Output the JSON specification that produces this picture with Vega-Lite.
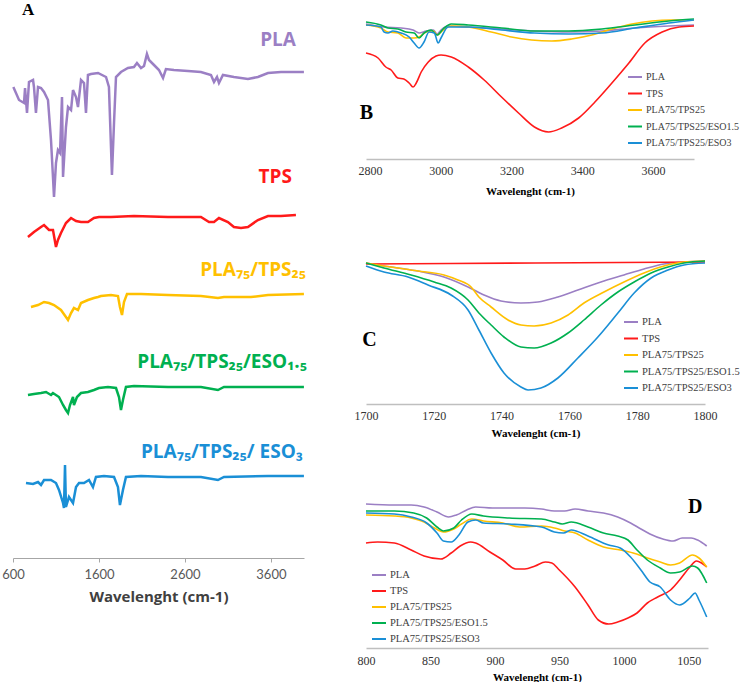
{
"$schema": "https://vega.github.io/schema/vega-lite/v6.json",
"padding": {"left": 1, "top": 0, "right": 0, "bottom": 0},
"background": "white",
"config": {"view": {"stroke": null}, "axis": {"grid": false}},
"bounds": "flush",
"spacing": 62,
"resolve": {"legend": {"color": "independent"}},
"datasets": {
"a": [
{"s":"PLA","x":604,"y":471},{"s":"PLA","x":670,"y":458},{"s":"PLA","x":728,"y":455},{"s":"PLA","x":740,"y":470},{"s":"PLA","x":763,"y":445},{"s":"PLA","x":786,"y":476},{"s":"PLA","x":833,"y":478},{"s":"PLA","x":844,"y":471},{"s":"PLA","x":867,"y":445},{"s":"PLA","x":891,"y":471},{"s":"PLA","x":926,"y":470},{"s":"PLA","x":961,"y":466},{"s":"PLA","x":1007,"y":458},{"s":"PLA","x":1042,"y":418},{"s":"PLA","x":1065,"y":381},{"s":"PLA","x":1077,"y":361},{"s":"PLA","x":1100,"y":395},{"s":"PLA","x":1123,"y":408},{"s":"PLA","x":1147,"y":405},{"s":"PLA","x":1170,"y":461},{"s":"PLA","x":1182,"y":381},{"s":"PLA","x":1216,"y":431},{"s":"PLA","x":1240,"y":451},{"s":"PLA","x":1275,"y":448},{"s":"PLA","x":1298,"y":468},{"s":"PLA","x":1333,"y":461},{"s":"PLA","x":1356,"y":451},{"s":"PLA","x":1391,"y":478},{"s":"PLA","x":1426,"y":475},{"s":"PLA","x":1449,"y":445},{"s":"PLA","x":1472,"y":483},{"s":"PLA","x":1507,"y":484},{"s":"PLA","x":1589,"y":485},{"s":"PLA","x":1682,"y":481},{"s":"PLA","x":1716,"y":471},{"s":"PLA","x":1751,"y":383},{"s":"PLA","x":1775,"y":435},{"s":"PLA","x":1798,"y":481},{"s":"PLA","x":1856,"y":486},{"s":"PLA","x":1937,"y":490},{"s":"PLA","x":2007,"y":491},{"s":"PLA","x":2042,"y":495},{"s":"PLA","x":2089,"y":490},{"s":"PLA","x":2124,"y":492},{"s":"PLA","x":2158,"y":504},{"s":"PLA","x":2182,"y":498},{"s":"PLA","x":2240,"y":493},{"s":"PLA","x":2298,"y":488},{"s":"PLA","x":2345,"y":480},{"s":"PLA","x":2379,"y":489},{"s":"PLA","x":2472,"y":488},{"s":"PLA","x":2635,"y":487},{"s":"PLA","x":2786,"y":486},{"s":"PLA","x":2903,"y":483},{"s":"PLA","x":2938,"y":476},{"s":"PLA","x":2973,"y":481},{"s":"PLA","x":2996,"y":475},{"s":"PLA","x":3042,"y":483},{"s":"PLA","x":3170,"y":481},{"s":"PLA","x":3333,"y":479},{"s":"PLA","x":3449,"y":481},{"s":"PLA","x":3566,"y":485},{"s":"PLA","x":3717,"y":486},{"s":"PLA","x":3868,"y":486},{"s":"PLA","x":3984,"y":486},
{"s":"TPS","x":774,"y":321},{"s":"TPS","x":844,"y":326},{"s":"TPS","x":926,"y":331},{"s":"TPS","x":961,"y":333},{"s":"TPS","x":1019,"y":328},{"s":"TPS","x":1065,"y":328},{"s":"TPS","x":1100,"y":311},{"s":"TPS","x":1123,"y":318},{"s":"TPS","x":1158,"y":325},{"s":"TPS","x":1216,"y":335},{"s":"TPS","x":1275,"y":340},{"s":"TPS","x":1333,"y":337},{"s":"TPS","x":1391,"y":336},{"s":"TPS","x":1472,"y":336},{"s":"TPS","x":1542,"y":340},{"s":"TPS","x":1600,"y":341},{"s":"TPS","x":1740,"y":341},{"s":"TPS","x":2007,"y":342},{"s":"TPS","x":2403,"y":341},{"s":"TPS","x":2786,"y":341},{"s":"TPS","x":2880,"y":336},{"s":"TPS","x":2938,"y":336},{"s":"TPS","x":2996,"y":340},{"s":"TPS","x":3100,"y":336},{"s":"TPS","x":3170,"y":331},{"s":"TPS","x":3252,"y":330},{"s":"TPS","x":3333,"y":331},{"s":"TPS","x":3449,"y":338},{"s":"TPS","x":3566,"y":342},{"s":"TPS","x":3717,"y":342},{"s":"TPS","x":3891,"y":343},
{"s":"PLA75/TPS25","x":809,"y":251},{"s":"PLA75/TPS25","x":891,"y":253},{"s":"PLA75/TPS25","x":961,"y":256},{"s":"PLA75/TPS25","x":1019,"y":255},{"s":"PLA75/TPS25","x":1077,"y":253},{"s":"PLA75/TPS25","x":1158,"y":248},{"s":"PLA75/TPS25","x":1216,"y":241},{"s":"PLA75/TPS25","x":1240,"y":238},{"s":"PLA75/TPS25","x":1275,"y":245},{"s":"PLA75/TPS25","x":1309,"y":250},{"s":"PLA75/TPS25","x":1356,"y":248},{"s":"PLA75/TPS25","x":1391,"y":255},{"s":"PLA75/TPS25","x":1472,"y":258},{"s":"PLA75/TPS25","x":1542,"y":260},{"s":"PLA75/TPS25","x":1589,"y":261},{"s":"PLA75/TPS25","x":1623,"y":262},{"s":"PLA75/TPS25","x":1740,"y":263},{"s":"PLA75/TPS25","x":1821,"y":262},{"s":"PLA75/TPS25","x":1844,"y":251},{"s":"PLA75/TPS25","x":1868,"y":243},{"s":"PLA75/TPS25","x":1891,"y":256},{"s":"PLA75/TPS25","x":1926,"y":264},{"s":"PLA75/TPS25","x":2089,"y":264},{"s":"PLA75/TPS25","x":2403,"y":263},{"s":"PLA75/TPS25","x":2786,"y":262},{"s":"PLA75/TPS25","x":2984,"y":260},{"s":"PLA75/TPS25","x":3054,"y":261},{"s":"PLA75/TPS25","x":3368,"y":261},{"s":"PLA75/TPS25","x":3566,"y":263},{"s":"PLA75/TPS25","x":3984,"y":264},
{"s":"PLA75/TPS25/ESO1.5","x":774,"y":163},{"s":"PLA75/TPS25/ESO1.5","x":844,"y":164},{"s":"PLA75/TPS25/ESO1.5","x":926,"y":165},{"s":"PLA75/TPS25/ESO1.5","x":984,"y":166},{"s":"PLA75/TPS25/ESO1.5","x":1042,"y":163},{"s":"PLA75/TPS25/ESO1.5","x":1065,"y":165},{"s":"PLA75/TPS25/ESO1.5","x":1135,"y":161},{"s":"PLA75/TPS25/ESO1.5","x":1182,"y":153},{"s":"PLA75/TPS25/ESO1.5","x":1216,"y":148},{"s":"PLA75/TPS25/ESO1.5","x":1240,"y":145},{"s":"PLA75/TPS25/ESO1.5","x":1263,"y":153},{"s":"PLA75/TPS25/ESO1.5","x":1298,"y":161},{"s":"PLA75/TPS25/ESO1.5","x":1309,"y":153},{"s":"PLA75/TPS25/ESO1.5","x":1344,"y":161},{"s":"PLA75/TPS25/ESO1.5","x":1391,"y":165},{"s":"PLA75/TPS25/ESO1.5","x":1472,"y":166},{"s":"PLA75/TPS25/ESO1.5","x":1542,"y":168},{"s":"PLA75/TPS25/ESO1.5","x":1600,"y":170},{"s":"PLA75/TPS25/ESO1.5","x":1705,"y":171},{"s":"PLA75/TPS25/ESO1.5","x":1798,"y":170},{"s":"PLA75/TPS25/ESO1.5","x":1833,"y":161},{"s":"PLA75/TPS25/ESO1.5","x":1856,"y":148},{"s":"PLA75/TPS25/ESO1.5","x":1879,"y":158},{"s":"PLA75/TPS25/ESO1.5","x":1914,"y":171},{"s":"PLA75/TPS25/ESO1.5","x":2007,"y":172},{"s":"PLA75/TPS25/ESO1.5","x":2403,"y":171},{"s":"PLA75/TPS25/ESO1.5","x":2786,"y":171},{"s":"PLA75/TPS25/ESO1.5","x":2984,"y":168},{"s":"PLA75/TPS25/ESO1.5","x":3054,"y":171},{"s":"PLA75/TPS25/ESO1.5","x":3566,"y":171},{"s":"PLA75/TPS25/ESO1.5","x":3984,"y":171},
{"s":"PLA75/TPS25/ESO3","x":751,"y":75},{"s":"PLA75/TPS25/ESO3","x":833,"y":74},{"s":"PLA75/TPS25/ESO3","x":891,"y":76},{"s":"PLA75/TPS25/ESO3","x":926,"y":73},{"s":"PLA75/TPS25/ESO3","x":961,"y":78},{"s":"PLA75/TPS25/ESO3","x":1042,"y":78},{"s":"PLA75/TPS25/ESO3","x":1100,"y":75},{"s":"PLA75/TPS25/ESO3","x":1135,"y":68},{"s":"PLA75/TPS25/ESO3","x":1182,"y":55},{"s":"PLA75/TPS25/ESO3","x":1193,"y":50},{"s":"PLA75/TPS25/ESO3","x":1205,"y":93},{"s":"PLA75/TPS25/ESO3","x":1216,"y":51},{"s":"PLA75/TPS25/ESO3","x":1251,"y":61},{"s":"PLA75/TPS25/ESO3","x":1298,"y":55},{"s":"PLA75/TPS25/ESO3","x":1333,"y":71},{"s":"PLA75/TPS25/ESO3","x":1368,"y":75},{"s":"PLA75/TPS25/ESO3","x":1426,"y":75},{"s":"PLA75/TPS25/ESO3","x":1484,"y":78},{"s":"PLA75/TPS25/ESO3","x":1530,"y":71},{"s":"PLA75/TPS25/ESO3","x":1565,"y":81},{"s":"PLA75/TPS25/ESO3","x":1658,"y":82},{"s":"PLA75/TPS25/ESO3","x":1775,"y":81},{"s":"PLA75/TPS25/ESO3","x":1821,"y":71},{"s":"PLA75/TPS25/ESO3","x":1844,"y":53},{"s":"PLA75/TPS25/ESO3","x":1879,"y":68},{"s":"PLA75/TPS25/ESO3","x":1914,"y":81},{"s":"PLA75/TPS25/ESO3","x":2089,"y":82},{"s":"PLA75/TPS25/ESO3","x":2403,"y":81},{"s":"PLA75/TPS25/ESO3","x":2786,"y":81},{"s":"PLA75/TPS25/ESO3","x":2984,"y":78},{"s":"PLA75/TPS25/ESO3","x":3054,"y":81},{"s":"PLA75/TPS25/ESO3","x":3566,"y":82},{"s":"PLA75/TPS25/ESO3","x":3984,"y":82}
],
"al": [
{"s":"PLA","x":3891,"y":518,"t":"PLA"},
{"s":"TPS","x":3845,"y":381,"t":"TPS"},
{"s":"PLA75/TPS25","x":4008,"y":288,"t":"PLA₇₅/TPS₂₅"},
{"s":"PLA75/TPS25/ESO1.5","x":4019,"y":196,"t":"PLA₇₅/TPS₂₅/ESO₁.₅"},
{"s":"PLA75/TPS25/ESO3","x":3973,"y":106,"t":"PLA₇₅/TPS₂₅/ ESO₃"}
],
"b": [
{"s":"PLA","x":2789,"y":135},{"s":"PLA","x":2840,"y":132},{"s":"PLA","x":2888,"y":131},{"s":"PLA","x":2922,"y":129},{"s":"PLA","x":2939,"y":126},{"s":"PLA","x":2959,"y":128},{"s":"PLA","x":2979,"y":129},{"s":"PLA","x":2990,"y":125},{"s":"PLA","x":3001,"y":129},{"s":"PLA","x":3021,"y":133},{"s":"PLA","x":3078,"y":132},{"s":"PLA","x":3172,"y":130},{"s":"PLA","x":3265,"y":128},{"s":"PLA","x":3362,"y":127},{"s":"PLA","x":3456,"y":128},{"s":"PLA","x":3549,"y":131},{"s":"PLA","x":3645,"y":133},{"s":"PLA","x":3716,"y":134},
{"s":"TPS","x":2789,"y":106},{"s":"TPS","x":2823,"y":101},{"s":"TPS","x":2845,"y":92},{"s":"TPS","x":2860,"y":89},{"s":"TPS","x":2879,"y":81},{"s":"TPS","x":2896,"y":80},{"s":"TPS","x":2911,"y":76},{"s":"TPS","x":2922,"y":72},{"s":"TPS","x":2931,"y":76},{"s":"TPS","x":2945,"y":87},{"s":"TPS","x":2965,"y":97},{"s":"TPS","x":2987,"y":103},{"s":"TPS","x":3001,"y":104},{"s":"TPS","x":3030,"y":102},{"s":"TPS","x":3078,"y":92},{"s":"TPS","x":3123,"y":79},{"s":"TPS","x":3172,"y":62},{"s":"TPS","x":3220,"y":46},{"s":"TPS","x":3265,"y":32},{"s":"TPS","x":3305,"y":27},{"s":"TPS","x":3342,"y":31},{"s":"TPS","x":3390,"y":41},{"s":"TPS","x":3436,"y":57},{"s":"TPS","x":3484,"y":76},{"s":"TPS","x":3532,"y":96},{"s":"TPS","x":3577,"y":116},{"s":"TPS","x":3626,"y":127},{"s":"TPS","x":3674,"y":132},{"s":"TPS","x":3716,"y":133},
{"s":"PLA75/TPS25","x":2789,"y":134},{"s":"PLA75/TPS25","x":2831,"y":131},{"s":"PLA75/TPS25","x":2851,"y":127},{"s":"PLA75/TPS25","x":2879,"y":126},{"s":"PLA75/TPS25","x":2902,"y":121},{"s":"PLA75/TPS25","x":2925,"y":121},{"s":"PLA75/TPS25","x":2939,"y":122},{"s":"PLA75/TPS25","x":2959,"y":127},{"s":"PLA75/TPS25","x":2979,"y":128},{"s":"PLA75/TPS25","x":2990,"y":124},{"s":"PLA75/TPS25","x":3007,"y":129},{"s":"PLA75/TPS25","x":3030,"y":133},{"s":"PLA75/TPS25","x":3078,"y":132},{"s":"PLA75/TPS25","x":3143,"y":127},{"s":"PLA75/TPS25","x":3200,"y":122},{"s":"PLA75/TPS25","x":3257,"y":119},{"s":"PLA75/TPS25","x":3314,"y":118},{"s":"PLA75/TPS25","x":3370,"y":120},{"s":"PLA75/TPS25","x":3427,"y":124},{"s":"PLA75/TPS25","x":3484,"y":130},{"s":"PLA75/TPS25","x":3541,"y":135},{"s":"PLA75/TPS25","x":3597,"y":138},{"s":"PLA75/TPS25","x":3654,"y":139},{"s":"PLA75/TPS25","x":3716,"y":139},
{"s":"PLA75/TPS25/ESO1.5","x":2789,"y":137},{"s":"PLA75/TPS25/ESO1.5","x":2831,"y":134},{"s":"PLA75/TPS25/ESO1.5","x":2851,"y":131},{"s":"PLA75/TPS25/ESO1.5","x":2879,"y":130},{"s":"PLA75/TPS25/ESO1.5","x":2902,"y":127},{"s":"PLA75/TPS25/ESO1.5","x":2925,"y":126},{"s":"PLA75/TPS25/ESO1.5","x":2939,"y":121},{"s":"PLA75/TPS25/ESO1.5","x":2953,"y":126},{"s":"PLA75/TPS25/ESO1.5","x":2973,"y":129},{"s":"PLA75/TPS25/ESO1.5","x":2990,"y":124},{"s":"PLA75/TPS25/ESO1.5","x":3007,"y":130},{"s":"PLA75/TPS25/ESO1.5","x":3030,"y":135},{"s":"PLA75/TPS25/ESO1.5","x":3078,"y":134},{"s":"PLA75/TPS25/ESO1.5","x":3172,"y":131},{"s":"PLA75/TPS25/ESO1.5","x":3265,"y":128},{"s":"PLA75/TPS25/ESO1.5","x":3362,"y":128},{"s":"PLA75/TPS25/ESO1.5","x":3456,"y":130},{"s":"PLA75/TPS25/ESO1.5","x":3549,"y":134},{"s":"PLA75/TPS25/ESO1.5","x":3645,"y":138},{"s":"PLA75/TPS25/ESO1.5","x":3716,"y":140},
{"s":"PLA75/TPS25/ESO3","x":2789,"y":134},{"s":"PLA75/TPS25/ESO3","x":2831,"y":132},{"s":"PLA75/TPS25/ESO3","x":2840,"y":127},{"s":"PLA75/TPS25/ESO3","x":2851,"y":126},{"s":"PLA75/TPS25/ESO3","x":2865,"y":128},{"s":"PLA75/TPS25/ESO3","x":2888,"y":126},{"s":"PLA75/TPS25/ESO3","x":2911,"y":122},{"s":"PLA75/TPS25/ESO3","x":2925,"y":116},{"s":"PLA75/TPS25/ESO3","x":2939,"y":111},{"s":"PLA75/TPS25/ESO3","x":2953,"y":117},{"s":"PLA75/TPS25/ESO3","x":2967,"y":127},{"s":"PLA75/TPS25/ESO3","x":2982,"y":126},{"s":"PLA75/TPS25/ESO3","x":2993,"y":116},{"s":"PLA75/TPS25/ESO3","x":3001,"y":121},{"s":"PLA75/TPS25/ESO3","x":3021,"y":132},{"s":"PLA75/TPS25/ESO3","x":3078,"y":132},{"s":"PLA75/TPS25/ESO3","x":3172,"y":129},{"s":"PLA75/TPS25/ESO3","x":3265,"y":126},{"s":"PLA75/TPS25/ESO3","x":3362,"y":125},{"s":"PLA75/TPS25/ESO3","x":3456,"y":126},{"s":"PLA75/TPS25/ESO3","x":3549,"y":131},{"s":"PLA75/TPS25/ESO3","x":3645,"y":136},{"s":"PLA75/TPS25/ESO3","x":3716,"y":139}
],
"c": [
{"s":"PLA","x":1700,"y":141},{"s":"PLA","x":1705.3,"y":138},{"s":"PLA","x":1715.3,"y":133},{"s":"PLA","x":1723,"y":127},{"s":"PLA","x":1730.1,"y":117},{"s":"PLA","x":1734.8,"y":109},{"s":"PLA","x":1739.8,"y":103},{"s":"PLA","x":1745.7,"y":101},{"s":"PLA","x":1750.7,"y":102},{"s":"PLA","x":1756.6,"y":107},{"s":"PLA","x":1762.5,"y":114},{"s":"PLA","x":1769.3,"y":122},{"s":"PLA","x":1776.1,"y":129},{"s":"PLA","x":1782,"y":135},{"s":"PLA","x":1787.9,"y":140},{"s":"PLA","x":1793.8,"y":142},{"s":"PLA","x":1800,"y":143},
{"s":"TPS","x":1700,"y":140},{"s":"TPS","x":1750,"y":141},{"s":"TPS","x":1800,"y":142},
{"s":"PLA75/TPS25","x":1700,"y":141},{"s":"PLA75/TPS25","x":1705.3,"y":138},{"s":"PLA75/TPS25","x":1715.3,"y":133},{"s":"PLA75/TPS25","x":1723,"y":129},{"s":"PLA75/TPS25","x":1727.1,"y":124},{"s":"PLA75/TPS25","x":1731,"y":117},{"s":"PLA75/TPS25","x":1733.3,"y":107},{"s":"PLA75/TPS25","x":1736.9,"y":97},{"s":"PLA75/TPS25","x":1741.9,"y":84},{"s":"PLA75/TPS25","x":1745.7,"y":79},{"s":"PLA75/TPS25","x":1749.6,"y":78},{"s":"PLA75/TPS25","x":1754.6,"y":81},{"s":"PLA75/TPS25","x":1759.6,"y":89},{"s":"PLA75/TPS25","x":1764.3,"y":101},{"s":"PLA75/TPS25","x":1770.2,"y":112},{"s":"PLA75/TPS25","x":1776.1,"y":122},{"s":"PLA75/TPS25","x":1782,"y":131},{"s":"PLA75/TPS25","x":1787.9,"y":138},{"s":"PLA75/TPS25","x":1793.8,"y":142},{"s":"PLA75/TPS25","x":1800,"y":143},
{"s":"PLA75/TPS25/ESO1.5","x":1700,"y":141},{"s":"PLA75/TPS25/ESO1.5","x":1705.3,"y":136},{"s":"PLA75/TPS25/ESO1.5","x":1713.3,"y":129},{"s":"PLA75/TPS25/ESO1.5","x":1720.1,"y":122},{"s":"PLA75/TPS25/ESO1.5","x":1725.1,"y":116},{"s":"PLA75/TPS25/ESO1.5","x":1730.1,"y":104},{"s":"PLA75/TPS25/ESO1.5","x":1733.3,"y":91},{"s":"PLA75/TPS25/ESO1.5","x":1736.9,"y":79},{"s":"PLA75/TPS25/ESO1.5","x":1740.7,"y":67},{"s":"PLA75/TPS25/ESO1.5","x":1745.7,"y":57},{"s":"PLA75/TPS25/ESO1.5","x":1749.6,"y":56},{"s":"PLA75/TPS25/ESO1.5","x":1754.6,"y":61},{"s":"PLA75/TPS25/ESO1.5","x":1759.6,"y":71},{"s":"PLA75/TPS25/ESO1.5","x":1764.3,"y":84},{"s":"PLA75/TPS25/ESO1.5","x":1769.3,"y":99},{"s":"PLA75/TPS25/ESO1.5","x":1774.3,"y":112},{"s":"PLA75/TPS25/ESO1.5","x":1779.1,"y":122},{"s":"PLA75/TPS25/ESO1.5","x":1784.1,"y":131},{"s":"PLA75/TPS25/ESO1.5","x":1789.1,"y":137},{"s":"PLA75/TPS25/ESO1.5","x":1793.8,"y":141},{"s":"PLA75/TPS25/ESO1.5","x":1800,"y":143},
{"s":"PLA75/TPS25/ESO3","x":1700,"y":138},{"s":"PLA75/TPS25/ESO3","x":1705.3,"y":132},{"s":"PLA75/TPS25/ESO3","x":1712.4,"y":127},{"s":"PLA75/TPS25/ESO3","x":1718.3,"y":119},{"s":"PLA75/TPS25/ESO3","x":1725.1,"y":109},{"s":"PLA75/TPS25/ESO3","x":1730.1,"y":94},{"s":"PLA75/TPS25/ESO3","x":1733.3,"y":74},{"s":"PLA75/TPS25/ESO3","x":1736.9,"y":51},{"s":"PLA75/TPS25/ESO3","x":1740.7,"y":31},{"s":"PLA75/TPS25/ESO3","x":1745.7,"y":17},{"s":"PLA75/TPS25/ESO3","x":1747.8,"y":14},{"s":"PLA75/TPS25/ESO3","x":1751.6,"y":16},{"s":"PLA75/TPS25/ESO3","x":1756.6,"y":26},{"s":"PLA75/TPS25/ESO3","x":1762.5,"y":46},{"s":"PLA75/TPS25/ESO3","x":1768.4,"y":67},{"s":"PLA75/TPS25/ESO3","x":1774.3,"y":91},{"s":"PLA75/TPS25/ESO3","x":1779.1,"y":111},{"s":"PLA75/TPS25/ESO3","x":1784.1,"y":126},{"s":"PLA75/TPS25/ESO3","x":1789.1,"y":134},{"s":"PLA75/TPS25/ESO3","x":1793.8,"y":139},{"s":"PLA75/TPS25/ESO3","x":1800,"y":141}
],
"d": [
{"s":"PLA","x":800,"y":144},{"s":"PLA","x":822,"y":143},{"s":"PLA","x":835,"y":143},{"s":"PLA","x":845,"y":141},{"s":"PLA","x":855,"y":136},{"s":"PLA","x":864,"y":131},{"s":"PLA","x":870,"y":133},{"s":"PLA","x":878,"y":138},{"s":"PLA","x":885,"y":141},{"s":"PLA","x":898,"y":140},{"s":"PLA","x":923,"y":140},{"s":"PLA","x":936,"y":139},{"s":"PLA","x":946,"y":137},{"s":"PLA","x":954,"y":137},{"s":"PLA","x":962,"y":139},{"s":"PLA","x":972,"y":137},{"s":"PLA","x":984,"y":135},{"s":"PLA","x":995,"y":131},{"s":"PLA","x":1005,"y":125},{"s":"PLA","x":1013,"y":119},{"s":"PLA","x":1020,"y":114},{"s":"PLA","x":1030,"y":109},{"s":"PLA","x":1038,"y":107},{"s":"PLA","x":1045,"y":110},{"s":"PLA","x":1052,"y":110},{"s":"PLA","x":1057,"y":108},{"s":"PLA","x":1064,"y":102},
{"s":"TPS","x":800,"y":105},{"s":"TPS","x":809,"y":106},{"s":"TPS","x":822,"y":105},{"s":"TPS","x":835,"y":98},{"s":"TPS","x":845,"y":92},{"s":"TPS","x":858,"y":89},{"s":"TPS","x":866,"y":95},{"s":"TPS","x":873,"y":102},{"s":"TPS","x":881,"y":106},{"s":"TPS","x":885,"y":105},{"s":"TPS","x":896,"y":96},{"s":"TPS","x":906,"y":88},{"s":"TPS","x":916,"y":79},{"s":"TPS","x":923,"y":79},{"s":"TPS","x":931,"y":82},{"s":"TPS","x":939,"y":86},{"s":"TPS","x":944,"y":85},{"s":"TPS","x":949,"y":79},{"s":"TPS","x":962,"y":61},{"s":"TPS","x":972,"y":43},{"s":"TPS","x":980,"y":28},{"s":"TPS","x":988,"y":24},{"s":"TPS","x":995,"y":26},{"s":"TPS","x":1003,"y":30},{"s":"TPS","x":1010,"y":35},{"s":"TPS","x":1018,"y":45},{"s":"TPS","x":1026,"y":51},{"s":"TPS","x":1036,"y":58},{"s":"TPS","x":1043,"y":68},{"s":"TPS","x":1051,"y":81},{"s":"TPS","x":1056,"y":87},{"s":"TPS","x":1060,"y":85},{"s":"TPS","x":1064,"y":81},
{"s":"PLA75/TPS25","x":800,"y":133},{"s":"PLA75/TPS25","x":822,"y":132},{"s":"PLA75/TPS25","x":835,"y":130},{"s":"PLA75/TPS25","x":845,"y":126},{"s":"PLA75/TPS25","x":853,"y":120},{"s":"PLA75/TPS25","x":860,"y":116},{"s":"PLA75/TPS25","x":868,"y":119},{"s":"PLA75/TPS25","x":874,"y":124},{"s":"PLA75/TPS25","x":882,"y":129},{"s":"PLA75/TPS25","x":891,"y":127},{"s":"PLA75/TPS25","x":906,"y":125},{"s":"PLA75/TPS25","x":919,"y":121},{"s":"PLA75/TPS25","x":936,"y":122},{"s":"PLA75/TPS25","x":946,"y":120},{"s":"PLA75/TPS25","x":954,"y":117},{"s":"PLA75/TPS25","x":962,"y":115},{"s":"PLA75/TPS25","x":972,"y":108},{"s":"PLA75/TPS25","x":984,"y":101},{"s":"PLA75/TPS25","x":997,"y":98},{"s":"PLA75/TPS25","x":1007,"y":95},{"s":"PLA75/TPS25","x":1018,"y":90},{"s":"PLA75/TPS25","x":1028,"y":86},{"s":"PLA75/TPS25","x":1036,"y":83},{"s":"PLA75/TPS25","x":1043,"y":85},{"s":"PLA75/TPS25","x":1053,"y":93},{"s":"PLA75/TPS25","x":1058,"y":90},{"s":"PLA75/TPS25","x":1064,"y":81},
{"s":"PLA75/TPS25/ESO1.5","x":800,"y":137},{"s":"PLA75/TPS25/ESO1.5","x":822,"y":137},{"s":"PLA75/TPS25/ESO1.5","x":837,"y":135},{"s":"PLA75/TPS25/ESO1.5","x":847,"y":130},{"s":"PLA75/TPS25/ESO1.5","x":855,"y":121},{"s":"PLA75/TPS25/ESO1.5","x":860,"y":117},{"s":"PLA75/TPS25/ESO1.5","x":868,"y":120},{"s":"PLA75/TPS25/ESO1.5","x":874,"y":128},{"s":"PLA75/TPS25/ESO1.5","x":882,"y":134},{"s":"PLA75/TPS25/ESO1.5","x":891,"y":132},{"s":"PLA75/TPS25/ESO1.5","x":911,"y":130},{"s":"PLA75/TPS25/ESO1.5","x":936,"y":129},{"s":"PLA75/TPS25/ESO1.5","x":946,"y":126},{"s":"PLA75/TPS25/ESO1.5","x":952,"y":124},{"s":"PLA75/TPS25/ESO1.5","x":959,"y":126},{"s":"PLA75/TPS25/ESO1.5","x":972,"y":121},{"s":"PLA75/TPS25/ESO1.5","x":984,"y":115},{"s":"PLA75/TPS25/ESO1.5","x":995,"y":112},{"s":"PLA75/TPS25/ESO1.5","x":1003,"y":108},{"s":"PLA75/TPS25/ESO1.5","x":1010,"y":98},{"s":"PLA75/TPS25/ESO1.5","x":1018,"y":88},{"s":"PLA75/TPS25/ESO1.5","x":1028,"y":80},{"s":"PLA75/TPS25/ESO1.5","x":1036,"y":75},{"s":"PLA75/TPS25/ESO1.5","x":1043,"y":76},{"s":"PLA75/TPS25/ESO1.5","x":1053,"y":82},{"s":"PLA75/TPS25/ESO1.5","x":1057,"y":80},{"s":"PLA75/TPS25/ESO1.5","x":1064,"y":65},
{"s":"PLA75/TPS25/ESO3","x":800,"y":135},{"s":"PLA75/TPS25/ESO3","x":822,"y":134},{"s":"PLA75/TPS25/ESO3","x":835,"y":131},{"s":"PLA75/TPS25/ESO3","x":847,"y":125},{"s":"PLA75/TPS25/ESO3","x":855,"y":115},{"s":"PLA75/TPS25/ESO3","x":860,"y":107},{"s":"PLA75/TPS25/ESO3","x":866,"y":106},{"s":"PLA75/TPS25/ESO3","x":872,"y":113},{"s":"PLA75/TPS25/ESO3","x":879,"y":126},{"s":"PLA75/TPS25/ESO3","x":885,"y":128},{"s":"PLA75/TPS25/ESO3","x":891,"y":125},{"s":"PLA75/TPS25/ESO3","x":911,"y":124},{"s":"PLA75/TPS25/ESO3","x":936,"y":121},{"s":"PLA75/TPS25/ESO3","x":946,"y":116},{"s":"PLA75/TPS25/ESO3","x":953,"y":115},{"s":"PLA75/TPS25/ESO3","x":959,"y":118},{"s":"PLA75/TPS25/ESO3","x":972,"y":112},{"s":"PLA75/TPS25/ESO3","x":988,"y":103},{"s":"PLA75/TPS25/ESO3","x":997,"y":100},{"s":"PLA75/TPS25/ESO3","x":1005,"y":91},{"s":"PLA75/TPS25/ESO3","x":1013,"y":78},{"s":"PLA75/TPS25/ESO3","x":1020,"y":66},{"s":"PLA75/TPS25/ESO3","x":1028,"y":61},{"s":"PLA75/TPS25/ESO3","x":1036,"y":48},{"s":"PLA75/TPS25/ESO3","x":1043,"y":43},{"s":"PLA75/TPS25/ESO3","x":1051,"y":50},{"s":"PLA75/TPS25/ESO3","x":1055,"y":55},{"s":"PLA75/TPS25/ESO3","x":1058,"y":48},{"s":"PLA75/TPS25/ESO3","x":1064,"y":31}
]
},
"hconcat": [
{
"width": 291, "height": 558,
"layer": [
{"data": {"name": "a"}, "mark": {"type": "line", "strokeWidth": 2.5, "clip": false},
 "encoding": {
  "x": {"field": "x", "type": "quantitative", "scale": {"domain": [600, 3985], "nice": false, "zero": false},
        "axis": {"values": [600, 1600, 2600, 3600], "format": "d", "title": "Wavelenght (cm-1)", "titleFont": "Open Sans", "titleFontSize": 15, "titleFontWeight": "bold", "titleColor": "#404040", "titlePadding": 8, "labelFont": "Lato", "labelFontSize": 13, "labelColor": "#595959", "labelPadding": 6, "labelFlush": false, "domainColor": "#a6a6a6", "tickColor": "#a6a6a6", "tickSize": 4, "grid": false}},
  "y": {"field": "y", "type": "quantitative", "scale": {"domain": [0, 558], "nice": false}, "axis": null},
  "color": {"field": "s", "type": "nominal", "scale": {"domain": ["PLA", "TPS", "PLA75/TPS25", "PLA75/TPS25/ESO1.5", "PLA75/TPS25/ESO3"], "range": ["#9b7fc4", "#ff1a1a", "#ffc000", "#00b050", "#1a8fd6"]}, "legend": null}
 }},
{"data": {"name": "al"}, "mark": {"type": "text", "align": "right", "baseline": "middle", "font": "Open Sans", "fontWeight": "bold", "fontSize": 19},
 "encoding": {
  "x": {"field": "x", "type": "quantitative"},
  "y": {"field": "y", "type": "quantitative"},
  "text": {"field": "t"},
  "color": {"field": "s", "type": "nominal", "legend": null}
 }},
{"data": {"values": [{"x": 775, "y": 548, "t": "A"}]}, "mark": {"type": "text", "align": "center", "baseline": "middle", "font": "Liberation Serif", "fontWeight": "bold", "fontSize": 17, "color": "#000000"},
 "encoding": {"x": {"field": "x", "type": "quantitative"}, "y": {"field": "y", "type": "quantitative"}, "text": {"field": "t"}}}
]
},
{
"vconcat": [
{
"width": 328, "height": 159,
"layer": [
{"data": {"name": "b"}, "mark": {"type": "line", "strokeWidth": 1.6, "interpolate": "monotone"},
 "encoding": {
  "x": {"field": "x", "type": "quantitative", "scale": {"domain": [2789, 3716], "nice": false, "zero": false},
        "axis": {"values": [2800, 3000, 3200, 3400, 3600], "format": "d", "title": "Wavelenght (cm-1)", "titleFont": "Liberation Serif", "titleFontSize": 11, "titleFontWeight": "bold", "titleColor": "#000000", "titlePadding": 9, "labelFont": "Liberation Serif", "labelFontSize": 12, "labelColor": "#333333", "labelPadding": 6, "labelFlush": false, "domainColor": "#bfbfbf", "domainWidth": 1.5, "ticks": false, "grid": false}},
  "y": {"field": "y", "type": "quantitative", "scale": {"domain": [0, 159], "nice": false}, "axis": null},
  "color": {"field": "s", "type": "nominal", "legend": {"orient": "none", "legendX": 261, "legendY": 69, "title": null, "symbolType": "stroke", "symbolStrokeWidth": 2, "symbolSize": 196, "labelFont": "Liberation Serif", "labelFontSize": 10, "labelColor": "#404040", "rowPadding": 3.5, "labelOffset": 3, "labelLimit": 200}}
 }},
{"data": {"values": [{"x": 2790, "y": 46, "t": "B"}]}, "mark": {"type": "text", "align": "center", "baseline": "middle", "font": "Liberation Serif", "fontWeight": "bold", "fontSize": 20, "color": "#000000"},
 "encoding": {"x": {"field": "x", "type": "quantitative"}, "y": {"field": "y", "type": "quantitative"}, "text": {"field": "t"}}}
]
},
{
"width": 339, "height": 156,
"layer": [
{"data": {"name": "c"}, "mark": {"type": "line", "strokeWidth": 1.6, "interpolate": "monotone"},
 "encoding": {
  "x": {"field": "x", "type": "quantitative", "scale": {"domain": [1700, 1800], "nice": false, "zero": false},
        "axis": {"values": [1700, 1720, 1740, 1760, 1780, 1800], "format": "d", "title": "Wavelenght (cm-1)", "titleFont": "Liberation Serif", "titleFontSize": 11, "titleFontWeight": "bold", "titleColor": "#000000", "titlePadding": 6, "labelFont": "Liberation Serif", "labelFontSize": 12, "labelColor": "#333333", "labelPadding": 6, "labelFlush": false, "domainColor": "#bfbfbf", "domainWidth": 1.5, "ticks": false, "grid": false}},
  "y": {"field": "y", "type": "quantitative", "scale": {"domain": [0, 156], "nice": false}, "axis": null},
  "color": {"field": "s", "type": "nominal", "legend": {"orient": "none", "legendX": 257, "legendY": 66, "title": null, "symbolType": "stroke", "symbolStrokeWidth": 2, "symbolSize": 196, "labelFont": "Liberation Serif", "labelFontSize": 10.5, "labelColor": "#404040", "rowPadding": 2.5, "labelOffset": 3}}
 }},
{"data": {"values": [{"x": 1701, "y": 64, "t": "C"}]}, "mark": {"type": "text", "align": "center", "baseline": "middle", "font": "Liberation Serif", "fontWeight": "bold", "fontSize": 20, "color": "#000000"},
 "encoding": {"x": {"field": "x", "type": "quantitative"}, "y": {"field": "y", "type": "quantitative"}, "text": {"field": "t"}}}
]
},
{
"width": 342, "height": 155,
"layer": [
{"data": {"name": "d"}, "mark": {"type": "line", "strokeWidth": 1.6, "interpolate": "monotone"},
 "encoding": {
  "x": {"field": "x", "type": "quantitative", "scale": {"domain": [800, 1065], "nice": false, "zero": false},
        "axis": {"values": [800, 850, 900, 950, 1000, 1050], "format": "d", "title": "Wavelenght (cm-1)", "titleFont": "Liberation Serif", "titleFontSize": 11, "titleFontWeight": "bold", "titleColor": "#000000", "titlePadding": 5, "labelFont": "Liberation Serif", "labelFontSize": 12, "labelColor": "#333333", "labelPadding": 7, "labelFlush": false, "domainColor": "#bfbfbf", "domainWidth": 1.5, "ticks": false, "grid": false}},
  "y": {"field": "y", "type": "quantitative", "scale": {"domain": [0, 155], "nice": false}, "axis": null},
  "color": {"field": "s", "type": "nominal", "legend": {"orient": "none", "legendX": 5, "legendY": 74, "title": null, "symbolType": "stroke", "symbolStrokeWidth": 2, "symbolSize": 196, "labelFont": "Liberation Serif", "labelFontSize": 10.5, "labelColor": "#404040", "rowPadding": 2, "labelOffset": 3}}
 }},
{"data": {"values": [{"x": 1055, "y": 141, "t": "D"}]}, "mark": {"type": "text", "align": "center", "baseline": "middle", "font": "Liberation Serif", "fontWeight": "bold", "fontSize": 20, "color": "#000000"},
 "encoding": {"x": {"field": "x", "type": "quantitative"}, "y": {"field": "y", "type": "quantitative"}, "text": {"field": "t"}}}
]
}
],
"spacing": 89,
"bounds": "flush",
"resolve": {"legend": {"color": "independent"}}
}
]
}
